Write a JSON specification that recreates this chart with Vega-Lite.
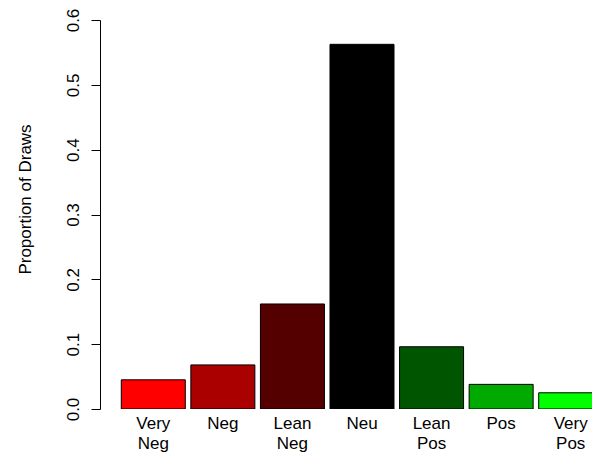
{
  "$schema": "https://vega.github.io/schema/vega-lite/v6.json",
  "autosize": "none",
  "width": 492,
  "height": 389,
  "padding": {"left": 100, "top": 20, "right": 0, "bottom": 44},
  "background": "white",
  "config": {"view": {"stroke": null}, "font": "Liberation Sans"},
  "data": {"values": [
    {"category": "Very Neg", "proportion": 0.045},
    {"category": "Neg", "proportion": 0.068},
    {"category": "Lean Neg", "proportion": 0.162},
    {"category": "Neu", "proportion": 0.5625},
    {"category": "Lean Pos", "proportion": 0.096},
    {"category": "Pos", "proportion": 0.038},
    {"category": "Very Pos", "proportion": 0.025}
  ]},
  "mark": {"type": "bar", "stroke": "black", "strokeWidth": 1, "clip": true},
  "encoding": {
    "x": {
      "field": "category", "type": "nominal", "sort": null,
      "scale": {"range": [0, 524], "paddingInner": 0.08, "paddingOuter": 0.306},
      "axis": {
        "title": null, "domain": false, "ticks": false, "labelAngle": 0,
        "labelExpr": "split(datum.value, ' ')",
        "labelFontSize": 17, "labelColor": "black", "labelPadding": 6,
        "labelLineHeight": 20, "labelBaseline": "top", "labelFont": "Liberation Sans"
      }
    },
    "y": {
      "field": "proportion", "type": "quantitative",
      "scale": {"domain": [0, 0.6], "nice": false},
      "axis": {
        "title": "Proportion of Draws", "values": [0, 0.1, 0.2, 0.3, 0.4, 0.5, 0.6],
        "format": ".1f", "grid": false, "domainColor": "black", "tickColor": "black",
        "tickSize": 9, "labelAngle": -90, "labelAlign": "center", "labelBaseline": "bottom",
        "labelPadding": 9, "labelFontSize": 17, "labelColor": "black",
        "titleFontSize": 17, "titleFontWeight": "normal", "titleColor": "black",
        "titlePadding": 30, "titleY": 179, "labelFont": "Liberation Sans", "titleFont": "Liberation Sans"
      }
    },
    "color": {
      "field": "category", "type": "nominal", "legend": null,
      "scale": {
        "domain": ["Very Neg", "Neg", "Lean Neg", "Neu", "Lean Pos", "Pos", "Very Pos"],
        "range": ["#FF0000", "#AA0000", "#550000", "#000000", "#005500", "#00AA00", "#00FF00"]
      }
    }
  }
}
